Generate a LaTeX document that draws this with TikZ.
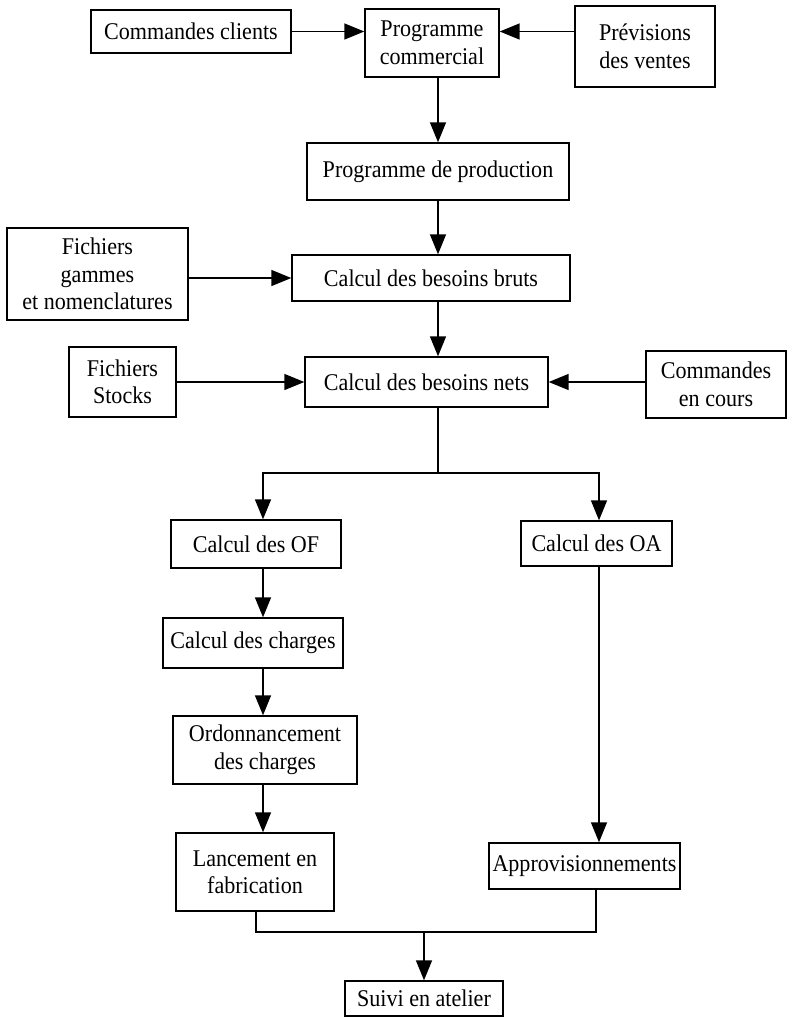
\documentclass[tikz,border=0pt]{standalone}
\usepackage{fontspec}
\setmainfont{Liberation Serif}[FakeStretch=0.92]
\usetikzlibrary{arrows.meta,positioning,calc}

\begin{document}
\begin{tikzpicture}[
  x=1pt,y=-1pt,
  box/.style={draw=black,line width=1.4pt,align=center,inner sep=0pt,
    font=\fontsize{24}{27.5}\selectfont},
  flow/.style={-{Triangle[length=20pt,width=16pt]},draw=black,line width=1.5pt},
  link/.style={draw=black,line width=1.5pt}
]
\useasboundingbox (0,0) rectangle (792,1017);

% top row
\node[box,minimum width=200pt,minimum height=43pt] (cmdcli) at (191,31.5) {Commandes clients};
\node[box,minimum width=134pt,minimum height=68pt] (progcom) at (432,43) {Programme\\commercial};
\node[box,minimum width=140pt,minimum height=81pt] (prevision) at (645,46.5) {Prévisions\\des ventes};
\draw[flow] (cmdcli.east) -- (progcom.west |- cmdcli.east);
\draw[flow] (prevision.west |- cmdcli.east) -- (progcom.east |- cmdcli.east);

\coordinate (spine) at (438,0);
\node[box,minimum width=262pt,minimum height=57pt] (progprod) at (438,171.5) {Programme de production};
\draw[flow] (progcom.south -| spine) -- (progprod.north -| spine);

\node[box,minimum width=181pt,minimum height=92pt] (fichgam) at (97.5,274) {Fichiers\\gammes\\et nomenclatures};
\node[box,minimum width=278pt,minimum height=46pt] (bruts) at (431,278) {Calcul des besoins bruts};
\draw[flow] (progprod.south -| spine) -- (bruts.north -| spine);
\draw[flow] (fichgam.east |- bruts.west) -- (bruts.west);

\node[box,minimum width=107pt,minimum height=70pt] (stocks) at (122.5,382) {Fichiers\\Stocks};
\node[box,minimum width=243pt,minimum height=50pt] (nets) at (426.5,382) {Calcul des besoins nets};
\node[box,minimum width=140pt,minimum height=67pt] (cmdcours) at (716,384.5) {Commandes\\en cours};
\draw[flow] (bruts.south -| spine) -- (nets.north -| spine);
\draw[flow] (stocks.east) -- (nets.west);
\draw[flow] (cmdcours.west |- nets.east) -- (nets.east);

% two branches
\coordinate (split) at (438,473);
\coordinate (colof) at (263,473);
\coordinate (coloa) at (599,473);
\node[box,minimum width=170pt,minimum height=48pt] (calcof) at (256,544) {Calcul des OF};
\node[box,minimum width=151pt,minimum height=45pt] (calcoa) at (596.5,543.5) {Calcul des OA};
\draw[link] (nets.south -| split) -- (split);
\draw[flow] (split) -- (colof) -- (colof |- calcof.north);
\draw[flow] (split) -- (coloa) -- (coloa |- calcoa.north);

\node[box,minimum width=180pt,minimum height=50pt] (charges) at (253,643) {Calcul des charges};
\node[box,minimum width=184pt,minimum height=68pt] (ordo) at (265,750) {Ordonnancement\\des charges};
\node[box,minimum width=158pt,minimum height=78pt] (lancement) at (255,872) {Lancement en\\fabrication};
\node[box,minimum width=191pt,minimum height=46pt] (appro) at (584.5,866) {Approvisionnements};
\draw[flow] (calcof.south -| colof) -- (charges.north -| colof);
\draw[flow] (charges.south -| colof) -- (ordo.north -| colof);
\draw[flow] (ordo.south -| colof) -- (lancement.north -| colof);
\draw[flow] (calcoa.south -| coloa) -- (appro.north -| coloa);

% merge
\coordinate (joinl) at (256,932);
\coordinate (joinr) at (596,932);
\coordinate (join) at (424,932);
\node[box,minimum width=158pt,minimum height=35pt] (suivi) at (424,998.5) {Suivi en atelier};
\draw[link] (lancement.south -| joinl) -- (joinl) -- (joinr) -- (joinr |- appro.south);
\draw[flow] (join) -- (suivi.north);
\end{tikzpicture}
\end{document}
